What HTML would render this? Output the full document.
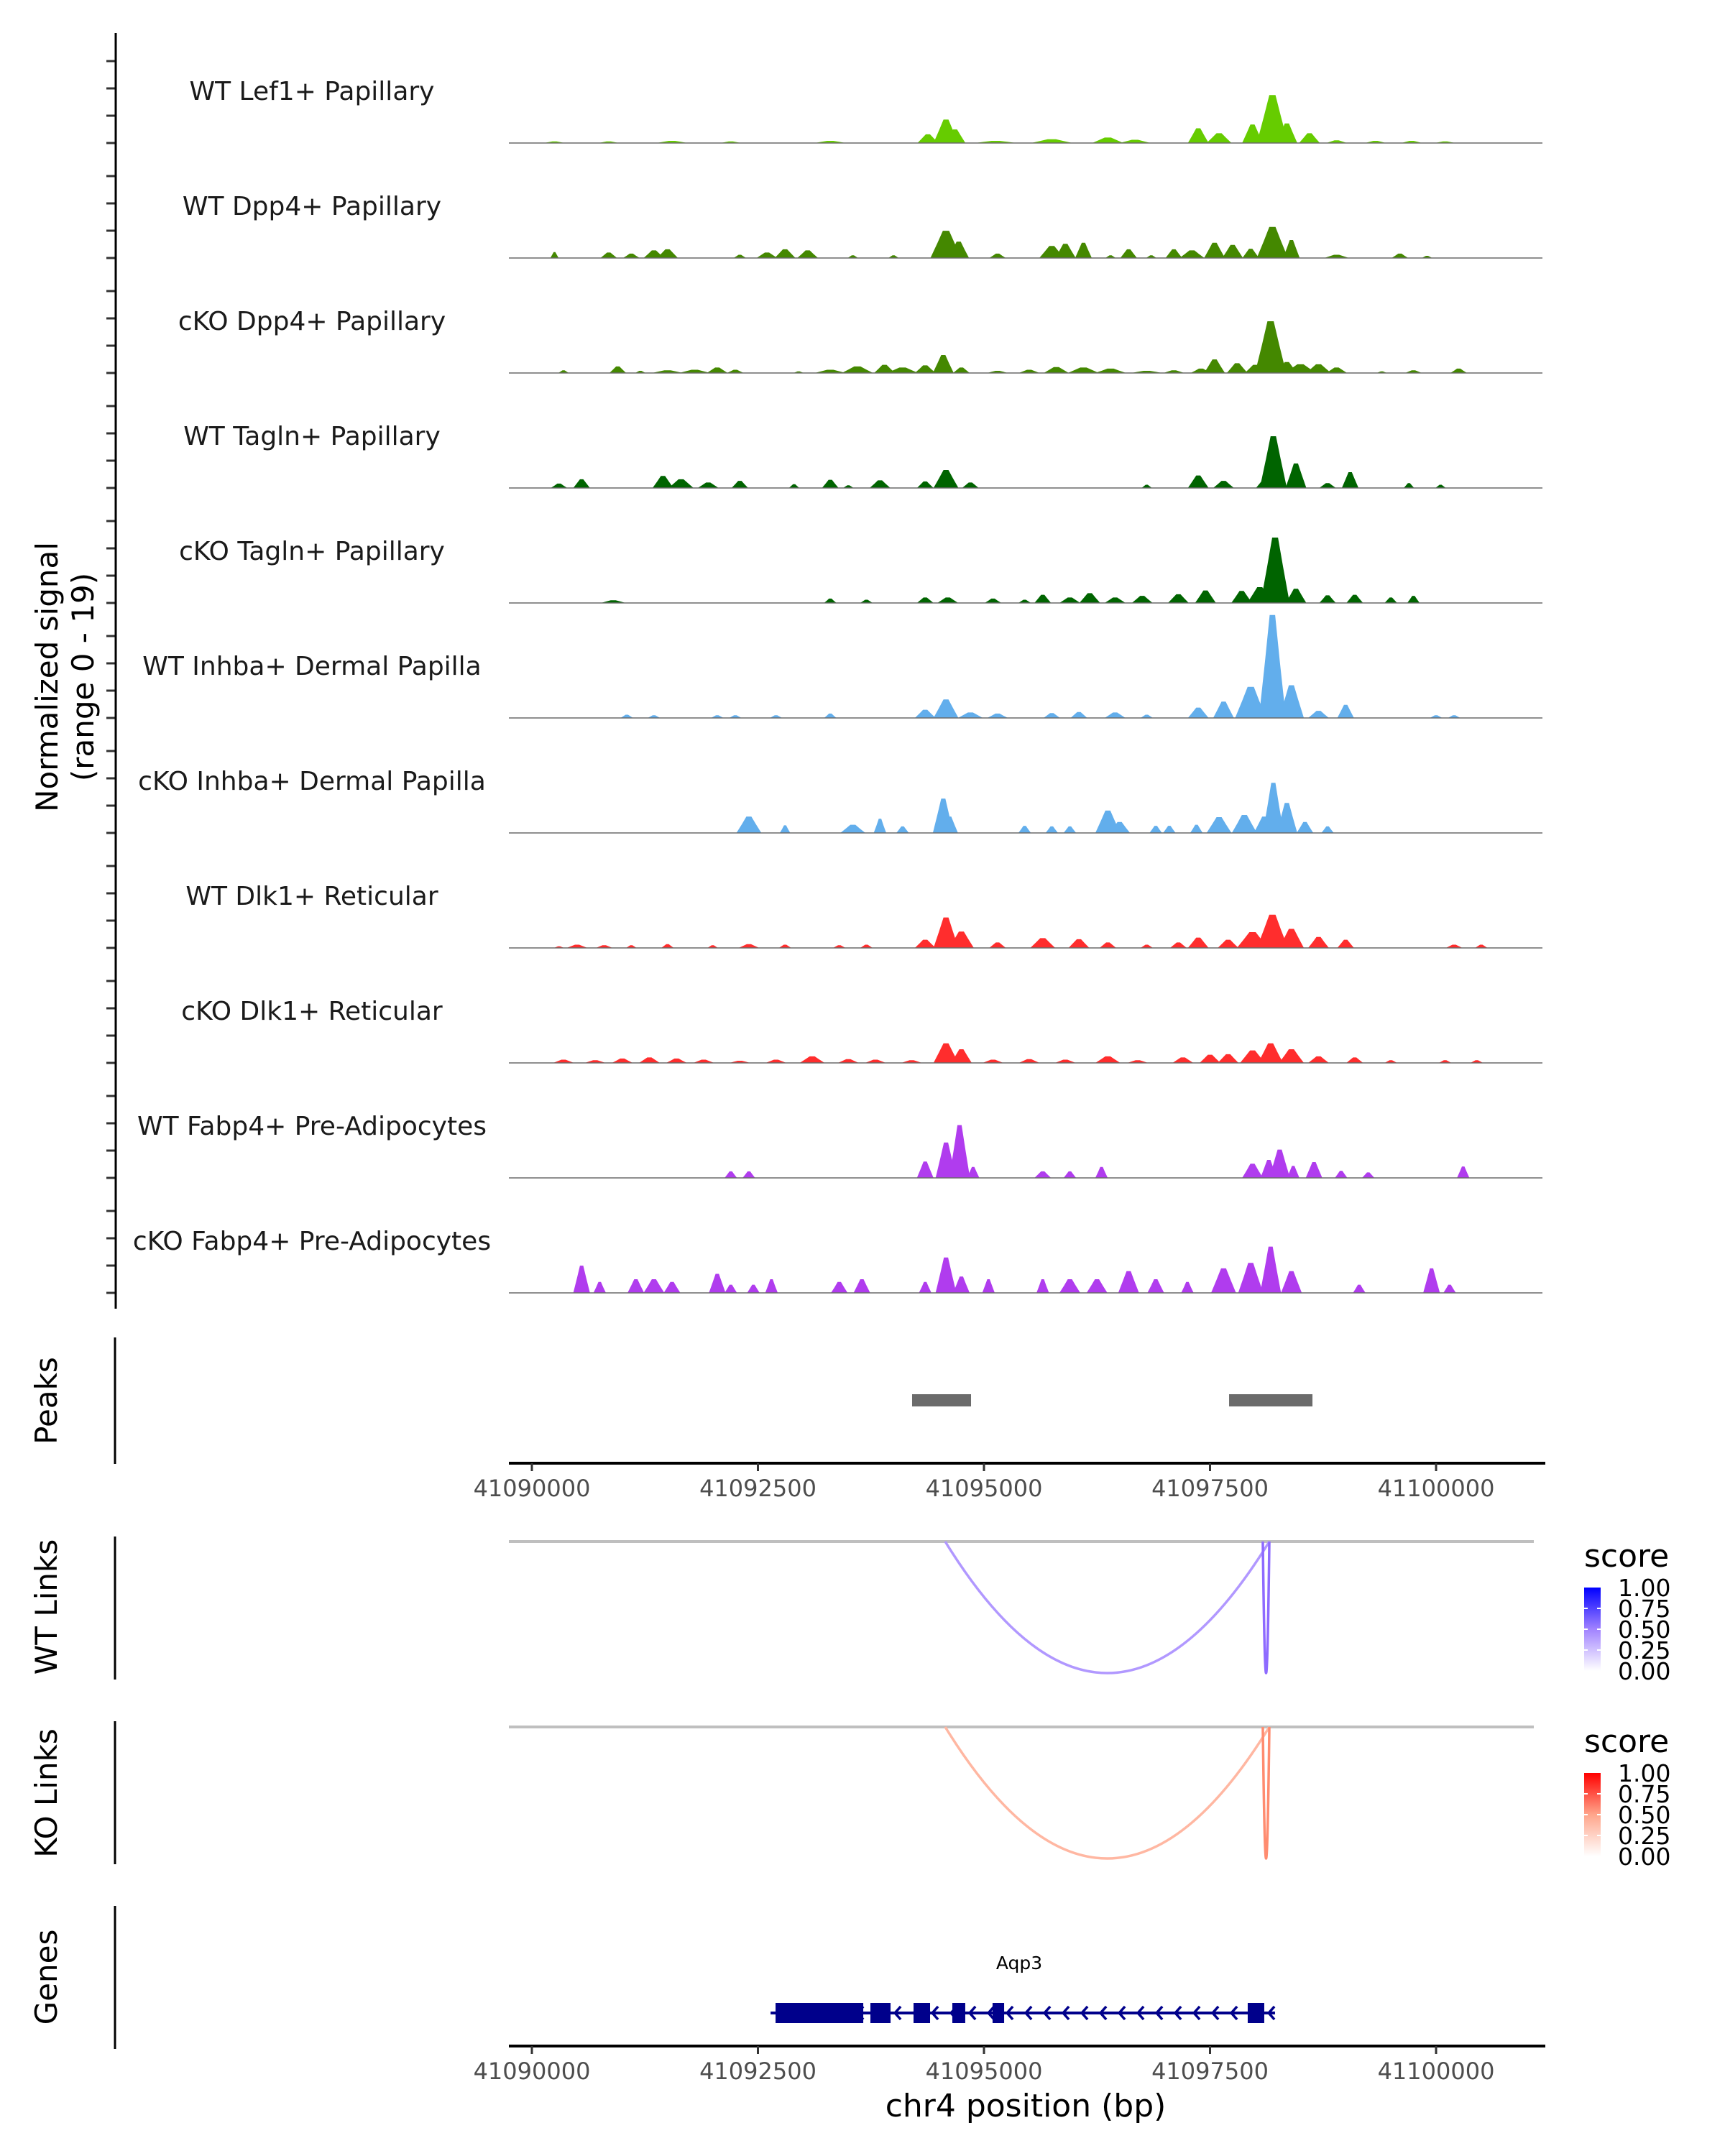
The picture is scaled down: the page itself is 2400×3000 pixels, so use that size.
<!DOCTYPE html>
<html><head><meta charset="utf-8"><style>
html,body{margin:0;padding:0;background:#fff}
svg{display:block;font-family:"DejaVu Sans","Liberation Sans",sans-serif}
</style></head><body>
<svg id="chart" width="2400" height="3000" viewBox="0 0 2400 3000" xmlns="http://www.w3.org/2000/svg">
<rect width="2400" height="3000" fill="#fff"/>
<g id="tracks"></g>
<g id="axes"></g>
<text transform="translate(80,942) rotate(-90)" text-anchor="middle" font-size="42" fill="#000">Normalized signal</text>
<text transform="translate(130,942) rotate(-90)" text-anchor="middle" font-size="42" fill="#000">(range 0 - 19)</text>
<text transform="translate(79,1949) rotate(-90)" text-anchor="middle" font-size="42">Peaks</text>
<text transform="translate(79,2236) rotate(-90)" text-anchor="middle" font-size="42">WT Links</text>
<text transform="translate(79,2495) rotate(-90)" text-anchor="middle" font-size="42">KO Links</text>
<text transform="translate(79,2751) rotate(-90)" text-anchor="middle" font-size="42">Genes</text>
<text x="1427" y="2945" text-anchor="middle" font-size="44">chr4 position (bp)</text>
<text x="2204" y="2180" font-size="44">score</text>
<text x="2204" y="2438" font-size="44">score</text>
<text x="1418" y="2740" text-anchor="middle" font-size="25">Aqp3</text>
<defs>
<linearGradient id="gBlue" x1="0" y1="1" x2="0" y2="0"><stop offset="0" stop-color="#fff"/><stop offset="0.5" stop-color="#a183ff"/><stop offset="1" stop-color="#0000ff"/></linearGradient>
<linearGradient id="gRed" x1="0" y1="1" x2="0" y2="0"><stop offset="0" stop-color="#fff"/><stop offset="0.5" stop-color="#ffa58b"/><stop offset="1" stop-color="#ff0000"/></linearGradient>
</defs>
</svg>
<script>
// ---- data (kb offsets from 41090000: [center, height, halfwidth]) ----
const trackNames = ["WT Lef1+ Papillary","WT Dpp4+ Papillary","cKO Dpp4+ Papillary","WT Tagln+ Papillary","cKO Tagln+ Papillary","WT Inhba+ Dermal Papilla","cKO Inhba+ Dermal Papilla","WT Dlk1+ Reticular","cKO Dlk1+ Reticular","WT Fabp4+ Pre-Adipocytes","cKO Fabp4+ Pre-Adipocytes"];
const trackColors = ["#66cc00","#448800","#448800","#006400","#006400","#62aeec","#62aeec","#ff2d2d","#ff2d2d","#b03cee","#b03cee"];
const lef1WT = [[0.25,.3,.1],[0.85,.3,.1],[1.55,.4,.15],[2.2,.3,.1],[3.3,.4,.15],[4.38,1.6,.1],[4.58,4.3,.12],[4.68,2.5,.1],[5.13,.4,.2],[5.75,.7,.2],[6.37,1,.15],[6.67,.6,.15],[7.37,2.7,.1],[7.6,1.8,.12],[7.97,3.4,.1],[8.19,8.8,.15],[8.35,3.6,.1],[8.6,1.8,.1],[8.9,.5,.1],[9.33,.4,.1],[9.73,.4,.1],[10.1,.3,.1]];
const dpp4WT = [[0.25,1.1,.04],[0.85,1.0,.08],[1.1,.8,.08],[1.35,1.4,.1],[1.5,1.6,.1],[2.3,.6,.06],[2.6,1.0,.1],[2.8,1.6,.1],[3.05,1.4,.1],[3.55,.5,.05],[4.0,.5,.05],[4.58,5.0,.15],[4.72,3,.1],[5.15,.8,.08],[5.75,2.2,.12],[5.9,2.6,.1],[6.1,2.8,.08],[6.4,.5,.05],[6.6,1.6,.08],[6.85,.5,.05],[7.1,1.6,.08],[7.3,1.4,.12],[7.55,2.8,.1],[7.75,2.4,.1],[7.95,1.7,.08],[8.19,5.7,.15],[8.4,3.3,.08],[8.9,.6,.12],[9.6,.8,.08],[9.9,.4,.05]];
const dpp4KO = [[0.35,.5,.05],[0.95,1.2,.08],[1.2,.4,.05],[1.5,.5,.15],[1.8,.6,.15],[2.05,1.0,.1],[2.25,.6,.08],[2.95,.3,.05],[3.3,.6,.15],[3.6,1.2,.15],[3.9,1.5,.1],[4.1,1.0,.15],[4.35,1.4,.1],[4.55,3.3,.1],[4.75,1.0,.08],[5.15,.4,.1],[5.5,.6,.1],[5.8,1.1,.12],[6.1,1.0,.15],[6.4,.8,.15],[6.8,.4,.15],[7.1,.5,.1],[7.4,.8,.1],[7.55,2.5,.1],[7.8,1.8,.1],[8.0,1.5,.1],[8.17,9.5,.15],[8.35,2.0,.1],[8.5,1.6,.15],[8.7,1.6,.12],[8.9,1.0,.1],[9.4,.3,.05],[9.75,.5,.08],[10.25,.8,.08]];
const taglnWT = [[0.3,.8,.08],[0.55,1.6,.08],[1.45,2.2,.1],[1.65,1.6,.12],[1.95,1.0,.1],[2.3,1.3,.08],[2.9,.7,.05],[3.3,1.5,.08],[3.5,.5,.05],[3.85,1.4,.1],[4.35,1.2,.08],[4.58,3.3,.12],[4.85,1,.08],[6.8,.6,.05],[7.37,2.3,.1],[7.65,1.3,.1],[8.1,1.5,.08],[8.2,9.5,.13],[8.45,4.5,.1],[8.8,.9,.08],[9.05,2.9,.08],[9.7,.9,.05],[10.05,.6,.05]];
const taglnKO = [[0.9,.5,.12],[3.3,.8,.06],[3.7,.6,.06],[4.35,1.0,.08],[4.6,1.0,.1],[5.1,.8,.08],[5.45,.6,.06],[5.65,1.5,.08],[5.95,1.0,.1],[6.17,1.8,.1],[6.45,1.0,.1],[6.75,1.3,.1],[7.15,1.6,.1],[7.45,2.3,.1],[7.85,2.2,.1],[8.05,2.9,.12],[8.22,12.0,.14],[8.45,2.6,.1],[8.8,1.4,.08],[9.1,1.5,.08],[9.5,1.0,.06],[9.75,1.3,.06]];
const inhbaWT = [[1.05,.6,.06],[1.35,.5,.06],[2.05,.5,.06],[2.25,.5,.06],[2.7,.5,.06],[3.3,.8,.06],[4.35,1.5,.1],[4.58,3.4,.12],[4.85,1,.12],[5.15,.8,.1],[5.75,.9,.08],[6.05,1.1,.08],[6.45,1.0,.1],[6.8,.6,.06],[7.37,1.9,.1],[7.65,3.0,.1],[7.95,5.7,.15],[8.19,18.9,.13],[8.4,6.0,.12],[8.7,1.3,.1],[9.0,2.4,.08],[10.0,.5,.06],[10.2,.5,.06]];
const inhbaKO = [[2.4,3,.12],[2.8,1.4,.05],[3.55,1.5,.12],[3.85,2.6,.06],[4.1,1.2,.06],[4.55,6.3,.1],[4.62,3,.08],[5.45,1.3,.06],[5.75,1.2,.06],[5.95,1.2,.06],[6.37,4.1,.12],[6.5,2.0,.1],[6.9,1.3,.06],[7.05,1.3,.06],[7.35,1.5,.06],[7.6,2.9,.12],[7.88,3.3,.12],[8.1,3.0,.1],[8.2,9.2,.1],[8.35,5.5,.1],[8.55,2.0,.08],[8.8,1.2,.06]];
const dlk1WT = [[0.3,.3,.05],[0.5,.6,.1],[0.8,.5,.08],[1.1,.5,.05],[1.5,.7,.06],[2.0,.5,.05],[2.4,.7,.1],[2.8,.6,.06],[3.4,.5,.06],[3.7,.6,.06],[4.35,1.5,.1],[4.58,5.6,.12],[4.75,3,.12],[5.15,1,.08],[5.65,1.8,.12],[6.05,1.6,.1],[6.37,1,.08],[6.8,.6,.06],[7.15,1.0,.08],[7.37,1.9,.1],[7.7,1.5,.1],[7.97,2.9,.15],[8.19,6.1,.15],[8.4,3.5,.12],[8.7,2.0,.1],[9.0,1.5,.08],[10.2,.6,.08],[10.5,.6,.06]];
const dlk1KO = [[0.35,.6,.1],[0.7,.5,.1],[1.0,.8,.1],[1.3,1.0,.1],[1.6,.8,.1],[1.9,.6,.1],[2.3,.4,.1],[2.7,.6,.1],[3.1,1.2,.12],[3.5,.7,.1],[3.8,.6,.1],[4.2,.5,.1],[4.58,3.6,.12],[4.75,2.5,.1],[5.1,.6,.1],[5.5,.7,.1],[5.9,.6,.1],[6.37,1.2,.12],[6.7,.5,.1],[7.2,1.0,.1],[7.5,1.5,.1],[7.7,1.6,.1],[7.97,2.3,.12],[8.17,3.6,.12],[8.4,2.5,.12],[8.7,1.2,.1],[9.1,1.0,.08],[9.5,.5,.06],[10.1,.5,.06],[10.45,.5,.06]];
const fabp4WT = [[2.2,1.2,.06],[2.4,1.2,.06],[4.35,3,.08],[4.58,6.5,.1],[4.73,9.7,.1],[4.88,2,.06],[5.65,1.2,.08],[5.95,1.2,.06],[6.3,2,.06],[7.97,2.6,.1],[8.15,3.3,.08],[8.27,5.2,.1],[8.42,2.2,.06],[8.65,2.9,.08],[8.95,1.3,.06],[9.25,1.0,.06],[10.3,2.1,.06]];
const fabp4KO = [[0.55,5,.08],[0.75,2,.06],[1.15,2.5,.08],[1.35,2.5,.1],[1.55,2,.08],[2.05,3.5,.08],[2.2,1.5,.06],[2.45,1.5,.06],[2.65,2.5,.06],[3.4,2,.08],[3.65,2.5,.08],[4.35,2,.06],[4.58,6.5,.1],[4.75,3,.08],[5.05,2.5,.06],[5.65,2.5,.06],[5.95,2.5,.1],[6.25,2.5,.1],[6.6,4,.1],[6.9,2.5,.08],[7.25,2,.06],[7.65,4.5,.12],[7.95,5.5,.12],[8.17,8.5,.1],[8.4,4,.1],[9.15,1.5,.06],[9.95,4.5,.08],[10.15,1.5,.06]];
const trackData = [lef1WT,dpp4WT,dpp4KO,taglnWT,taglnKO,inhbaWT,inhbaKO,dlk1WT,dlk1KO,fabp4WT,fabp4KO];
const xTicks = [41090000,41092500,41095000,41097500,41100000];
const peakRegions = [[41094205,41094857],[41097711,41098633]];
const wtLinks = [[41094571,41098156,0.4],[41098084,41098156,0.62]];
const koLinks = [[41094571,41098156,0.4],[41098084,41098156,0.62]];
const geneExons = [[41092695,41093665],[41093744,41093967],[41094221,41094404],[41094650,41094793],[41095095,41095223],[41097917,41098100]];
const geneSpan = [41092640,41098219];
const legendTicks = ["1.00","0.75","0.50","0.25","0.00"];

// ---- scales ----
const X0 = 740, XS = 0.1258, PL = 708, PR = 2146;
function xbp(bp){ return X0 + (bp - 41090000) * XS; }
function xkb(kb){ return xbp(41090000 + kb * 1000); }
const YS = 7.58;
function baseY(i){ return 199 + 160 * i; }
const NS = "http://www.w3.org/2000/svg";
const svg = document.getElementById('chart');
const tracksG = document.getElementById('tracks');
const axesG = document.getElementById('axes');
function mk(tag, attrs, parent){ const e = document.createElementNS(NS, tag); for (const k in attrs) e.setAttribute(k, attrs[k]); (parent||svg).appendChild(e); return e; }

// ---- coverage tracks ----
trackData.forEach((peaks, i) => {
  const by = baseY(i);
  const g = mk('g', {}, tracksG);
  
  
  peaks.forEach((p) => {
    const c = p[0], h = p[1] * YS, w = p[2] * 1.15;
    const pts = [[xkb(c-w), by],[xkb(c-w*0.55), by-h*0.55],[xkb(c-w*0.2), by-h],[xkb(c+w*0.2), by-h],[xkb(c+w*0.55), by-h*0.55],[xkb(c+w), by]].map(q => q[0].toFixed(1)+','+q[1].toFixed(1)).join(' ');
    const poly = mk('polygon', {points: pts, fill: trackColors[i]}, g);
    
    
  });
  const bl = mk('line', {x1: PL, x2: PR, y1: by, y2: by, stroke: '#6a6a6a', 'stroke-width': 1.6}, g);
  
  
  const lab = mk('text', {x: 434, y: by - 60, 'text-anchor': 'middle', 'font-size': 36, fill: '#1a1a1a'}, g);
  lab.textContent = trackNames[i];
  
  
  [0,38,76,114].forEach(d => {
    const t = mk('line', {x1: 148, x2: 161, y1: by - d, y2: by - d, stroke: '#333', 'stroke-width': 3}, axesG);
    
    
  });
});
const yAx = mk('line', {x1: 161, x2: 161, y1: 46, y2: 1821, stroke: '#000', 'stroke-width': 3}, axesG);



// left axis segments for lower panels
[[1861,2037],[2138,2337],[2395,2594],[2652,2851]].forEach(s => {
  const l = mk('line', {x1: 160, x2: 160, y1: s[0], y2: s[1], stroke: '#000', 'stroke-width': 3}, axesG);
  
  
});

// ---- peaks ----
peakRegions.forEach(r => {
  const rc = mk('rect', {x: xbp(r[0]), y: 1940, width: xbp(r[1]) - xbp(r[0]), height: 17, fill: '#6b6b6b'});
  
  
});

// ---- x axes ----
function xAxis(y, nm){
  const a = mk('line', {x1: PL, x2: 2150, y1: y, y2: y, stroke: '#000', 'stroke-width': 4});
  
  
  xTicks.forEach(t => {
    const tk = mk('line', {x1: xbp(t), x2: xbp(t), y1: y, y2: y + 11, stroke: '#333', 'stroke-width': 3});
    
    
    const tl = mk('text', {x: xbp(t), y: y + 46, 'text-anchor': 'middle', 'font-size': 32, fill: '#4d4d4d'});
    tl.textContent = String(t);
    
    
  });
}
xAxis(2036, 'peaks-x-axis');
xAxis(2847, 'genes-x-axis');

// ---- links ----
const blueStops = [[255,255,255],[201,184,255],[161,131,255],[122,82,255],[0,0,255]];
const redStops = [[255,255,255],[255,211,196],[255,165,139],[255,113,83],[255,0,0]];
function colorAt(stops, s){
  const f = Math.max(0, Math.min(1, s)) * 4, k = Math.min(3, Math.floor(f)), t = f - k;
  const c = stops[k].map((v, j) => Math.round(v + (stops[k+1][j] - v) * t));
  return 'rgb(' + c.join(',') + ')';
}
function linkPanel(links, y0, stops, nm){
  const gl = mk('line', {x1: PL, x2: 2134, y1: y0, y2: y0, stroke: '#bfbfbf', 'stroke-width': 4});
  
  
  const depth = 183;
  links.forEach(l => {
    const a = xbp(l[0]), b = xbp(l[1]);
    const p = mk('path', {d: 'M' + a + ',' + y0 + ' Q' + ((a+b)/2) + ',' + (y0 + 2*depth) + ' ' + b + ',' + y0, fill: 'none', stroke: colorAt(stops, l[2]), 'stroke-width': 3.5});
    
    
  });
}
linkPanel(wtLinks, 2145, blueStops, 'wt-link');
linkPanel(koLinks, 2403, redStops, 'ko-link');

// ---- legends ----
function legend(y0, grad, nm){
  const r = mk('rect', {x: 2204, y: y0, width: 23, height: 116, fill: 'url(#' + grad + ')'});
  
  
  legendTicks.forEach((lt, k) => {
    const yy = y0 + k * 29;
    if (k > 0 && k < 4) {
      const t = mk('line', {x1: 2204, x2: 2209, y1: yy, y2: yy, stroke: '#fff', 'stroke-width': 2});
      
      
      const t2 = mk('line', {x1: 2222, x2: 2227, y1: yy, y2: yy, stroke: '#fff', 'stroke-width': 2});
      
      
    }
    const tx = mk('text', {x: 2251, y: yy + 12, 'font-size': 33, fill: '#000'});
    tx.textContent = lt;
    
    
  });
}
legend(2209, 'gBlue', 'wt-legend');
legend(2467, 'gRed', 'ko-legend');

// ---- gene model ----
const GY = 2801, GC = '#00008b';
const gl = mk('line', {x1: xbp(geneSpan[0]), x2: xbp(geneSpan[1]), y1: GY, y2: GY, stroke: GC, 'stroke-width': 4});


for (let px = xbp(geneSpan[0]) + 20; px < xbp(geneSpan[1]); px += 26) {
  const ar = mk('path', {d: 'M' + (px + 5) + ',' + (GY - 9) + ' L' + (px - 3) + ',' + GY + ' L' + (px + 5) + ',' + (GY + 9), fill: 'none', stroke: GC, 'stroke-width': 3.5});
  
  
}
geneExons.forEach(e => {
  const r = mk('rect', {x: xbp(e[0]), y: GY - 14, width: xbp(e[1]) - xbp(e[0]), height: 28, fill: GC});
  
  
});
</script>
</body></html>
